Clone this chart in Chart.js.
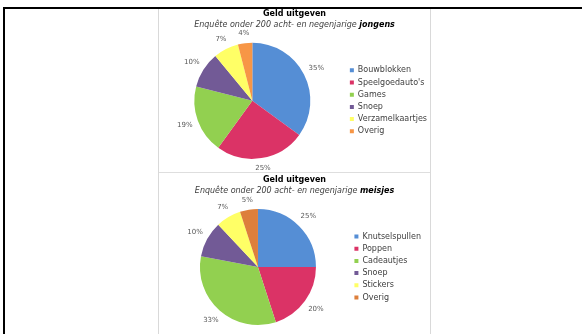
<!DOCTYPE html>
<html>
<head>
<meta charset="utf-8">
<script src="https://cdn.jsdelivr.net/npm/chart.js@4/dist/chart.umd.min.js"></script>
<style>
  html, body { margin: 0; padding: 0; background: #fff; }
  body { width: 582px; height: 334px; position: relative; overflow: hidden; }
  #kader { position: absolute; left: 3px; top: 7px; right: -10px; bottom: -10px;
           border-top: 2px solid #000; border-left: 2px solid #000; }
  #paneel { position: absolute; left: 158px; top: 9px; width: 271px; height: 340px;
            border-left: 1px solid #d9d9d9; border-right: 1px solid #d9d9d9; }
  #scheiding { position: absolute; left: 159px; top: 172px; width: 271px; height: 1px; background: #dedede; }
  canvas { position: absolute; }
</style>
</head>
<body>
<div id="kader"></div>
<div id="paneel"></div>
<div id="scheiding"></div>
<canvas id="jongens" width="280" height="163" style="left:159px; top:9px;"></canvas>
<canvas id="meisjes" width="280" height="161" style="left:159px; top:173px;"></canvas>
<script>
const titel = 'Geld uitgeven';
const onderschrift = 'Enquête onder 200 acht- en negenjarige ';

const jongensLabels = ['Bouwblokken', "Speelgoedauto's", 'Games', 'Snoep', 'Verzamelkaartjes', 'Overig'];
const jongensProcent = [35, 25, 19, 10, 7, 4];
const jongensKleuren = ['#558ed5', '#db3366', '#92d050', '#725a96', '#ffff66', '#f79646'];

const meisjesLabels = ['Knutselspullen', 'Poppen', 'Cadeautjes', 'Snoep', 'Stickers', 'Overig'];
const meisjesProcent = [25, 20, 33, 10, 7, 5];
const meisjesKleuren = ['#558ed5', '#db3366', '#92d050', '#725a96', '#ffff66', '#dd7f3b'];

const FONT = '"DejaVu Sans", Verdana, sans-serif';

// titel + cursief onderschrift met vetgedrukte groep
const kopPlugin = {
  id: 'kop',
  afterDraw(chart, args, opts) {
    const ctx = chart.ctx;
    const cx = opts.x;
    ctx.save();
    ctx.textBaseline = 'middle';
    ctx.textAlign = 'center';
    ctx.fillStyle = '#000';
    ctx.font = 'bold 8px ' + FONT;
    ctx.fillText(titel, cx, opts.y);

    const deel1 = 'italic 8px ' + FONT;
    const deel2 = 'italic bold 8px ' + FONT;
    ctx.font = deel1;
    const w1 = ctx.measureText(onderschrift).width;
    ctx.font = deel2;
    const w2 = ctx.measureText(opts.groep).width;
    let x = cx - (w1 + w2) / 2;
    ctx.textAlign = 'left';
    ctx.fillStyle = '#404040';
    ctx.font = deel1;
    ctx.fillText(onderschrift, x, opts.y + 10.5);
    ctx.fillStyle = '#000';
    ctx.font = deel2;
    ctx.fillText(opts.groep, x + w1, opts.y + 10.5);
    ctx.restore();
  }
};

// percentages buiten de taartpunten
const procentPlugin = {
  id: 'procent',
  afterDatasetsDraw(chart) {
    const ctx = chart.ctx;
    const meta = chart.getDatasetMeta(0);
    const waarden = chart.data.datasets[0].data;
    ctx.save();
    ctx.font = '7px ' + FONT;
    ctx.fillStyle = '#595959';
    ctx.textAlign = 'center';
    ctx.textBaseline = 'middle';
    meta.data.forEach((arc, i) => {
      const p = arc.getProps(['x', 'y', 'startAngle', 'endAngle', 'outerRadius'], true);
      const tekst = waarden[i] + '%';
      const half = ctx.measureText(tekst).width / 2;
      const mid = (p.startAngle + p.endAngle) / 2;
      const r = p.outerRadius + 5 + Math.abs(Math.cos(mid)) * half + Math.abs(Math.sin(mid)) * 4;
      ctx.fillText(tekst, p.x + Math.cos(mid) * r, p.y + Math.sin(mid) * r);
    });
    ctx.restore();
  }
};

function maakTaart(id, labels, waarden, kleuren, groep, padding, kopY) {
  return new Chart(document.getElementById(id), {
    type: 'pie',
    data: {
      labels: labels,
      datasets: [{
        data: waarden,
        backgroundColor: kleuren,
        borderWidth: 0
      }]
    },
    options: {
      responsive: false,
      animation: false,
      devicePixelRatio: 1,
      radius: 58,
      layout: { padding: padding },
      plugins: {
        tooltip: { enabled: false },
        kop: { x: 135.5, y: kopY, groep: groep },
        legend: {
          position: 'right',
          align: 'center',
          labels: {
            boxWidth: 4,
            boxHeight: 4,
            padding: 4.2,
            color: '#404040',
            font: { family: FONT, size: 8 }
          }
        }
      }
    },
    plugins: [kopPlugin, procentPlugin]
  });
}

maakTaart('jongens', jongensLabels, jongensProcent, jongensKleuren, 'jongens',
  { left: 0, right: 2, top: 28, bottom: 7.4 }, 5);
maakTaart('meisjes', meisjesLabels, meisjesProcent, meisjesKleuren, 'meisjes',
  { left: 6.7, right: 8, top: 30, bottom: 3 }, 7);
</script>
</body>
</html>
